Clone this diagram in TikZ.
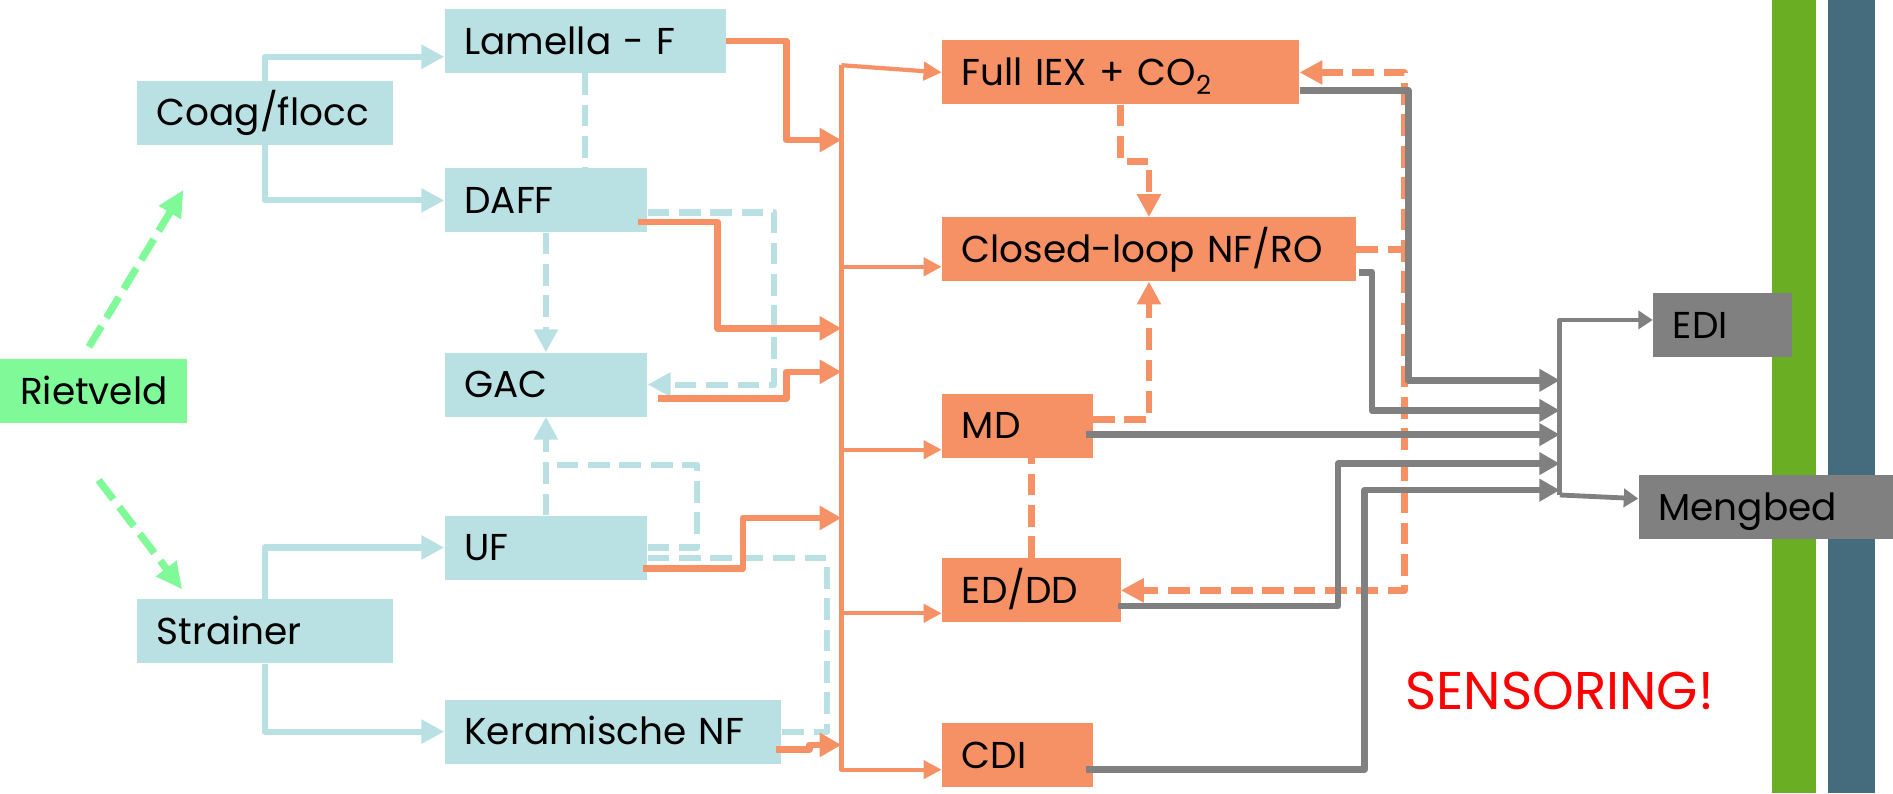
\documentclass[tikz,border=0pt]{standalone}
\usepackage{fontspec}
\setmainfont{Poppins}
\usepackage{tikz}
\usetikzlibrary{arrows.meta}

\definecolor{lichtblauw}{RGB}{185,224,227}
\definecolor{oranje}{RGB}{246,145,102}
\definecolor{lichtgroen}{RGB}{128,250,153}
\definecolor{grijs}{RGB}{128,128,128}
\definecolor{balkgroen}{RGB}{106,175,35}
\definecolor{balkblauw}{RGB}{69,108,124}
\definecolor{rood}{RGB}{255,0,0}

\begin{document}
\begin{tikzpicture}[x=1pt, y=-1pt, line join=round,
   blok/.style={rectangle, anchor=west, inner xsep=16.5pt, inner ysep=0pt,
      minimum height=53pt, align=left, text height=21.5pt, text depth=0pt,
      font=\fontsize{31}{36}\selectfont},
   blauwblok/.style={blok, fill=lichtblauw},
   groenblok/.style={blok, fill=lichtgroen},
   oranjeblok/.style={blok, fill=oranje},
   grijsblok/.style={blok, fill=grijs},
   blauwlijn/.style={draw=lichtblauw, line width=5pt, -{Triangle[length=19pt, width=19pt]}},
   blauwstreep/.style={blauwlijn, dash pattern=on 18pt off 8pt},
   oranjelijn/.style={draw=oranje, line width=5.5pt, -{Triangle[length=18pt, width=19pt]}},
   oranjedun/.style={draw=oranje, line width=3.5pt, -{Triangle[length=15pt, width=15pt]}},
   oranjestreep/.style={draw=oranje, line width=5.5pt, dash pattern=on 18pt off 8pt,
      -{Triangle[length=19pt, width=19pt]}},
   grijslijn/.style={draw=grijs, line width=5.5pt, -{Triangle[length=17pt, width=18pt]}},
   grijsdun/.style={draw=grijs, line width=4pt, -{Triangle[length=12pt, width=15pt]}},
   groenstreep/.style={draw=lichtgroen, line width=6pt, dash pattern=on 20pt off 8pt,
      -{Triangle[length=22pt, width=20pt]}}]
   \useasboundingbox (0,0) rectangle (1568,657);
   \fill[balkgroen] (1468,0) rectangle (1504,657);
   \fill[balkblauw] (1514,0) rectangle (1553,657);

   \node (rietveld) at (0,324) [groenblok, text width=122pt] {Rietveld};
   \node (coag) at (113,93.5) [blauwblok, text width=179pt] {Coag/flocc};
   \node (strainer) at (113,523) [blauwblok, text width=179pt] {Strainer};
   \node (lamella) at (368,34) [blauwblok, text width=200pt] {Lamella - F};
   \node (daff) at (368,166) [blauwblok, text width=135pt] {DAFF};
   \node (gac) at (368,318.5) [blauwblok, text width=135pt] {GAC};
   \node (uf) at (368,453.5) [blauwblok, text width=135pt] {UF};
   \node (keramisch) at (368,606) [blauwblok, text width=246pt] {Keramische NF};
   \node (fulliex) at (780,60) [oranjeblok, text width=263pt] {Full IEX + CO\textsubscript{2}};
   \node (closedloop) at (780,206.5) [oranjeblok, text width=310pt] {Closed-loop NF/RO};
   \node (md) at (780,352.5) [oranjeblok, text width=92pt] {MD};
   \node (eddd) at (780,489) [oranjeblok, text width=115pt] {ED/DD};
   \node (cdi) at (780,625.5) [oranjeblok, text width=92pt] {CDI};
   \node (edi) at (1369,269.5) [grijsblok, text width=82pt] {EDI};
   \node (mengbed) at (1357,420) [grijsblok, text width=180pt] {Mengbed};
   \node (sensoring) at (1164,572) [anchor=west, inner sep=0pt, text=rood, text height=31pt,
      text depth=0pt, font=\fontsize{44}{50}\selectfont] {SENSORING!};

   \coordinate (obus boven) at (697,54);
   \foreach \naam/\y in {lamella/116, daff/272, gac/308, uf/429, keramisch/617}
      \coordinate (in-\naam) at (697,\y);
   \coordinate (gbus boven) at (1292,265);
   \coordinate (gbus onder) at (1292,410);
   \foreach \i/\y in {1/315, 2/340, 3/360, 4/384, 5/406}
      \coordinate (gin-\i) at (1292,\y);

   \draw[groenstreep] ([xshift=-4pt,yshift=10pt]rietveld.north) -- ([xshift=39pt,yshift=-37pt]coag.south west);
   \draw[groenstreep] ([xshift=4pt,yshift=-47pt]rietveld.south) -- ([xshift=38pt,yshift=8pt]strainer.north west);

   \draw[blauwlijn] (coag.north) |- ([yshift=-13pt]lamella.west);
   \draw[blauwlijn] (coag.south) |- (daff.west);
   \draw[blauwlijn] (strainer.north) |- (uf.west);
   \draw[blauwlijn] (strainer.south) |- (keramisch.west);
   \draw[blauwstreep, -] (lamella.south) -- (lamella.south |- daff.north);
   \draw[blauwstreep] (daff.south) -- (gac.north);
   \draw[blauwstreep] ([yshift=-10pt]daff.east) -- ++(105,0) |- (gac.east);
   \draw[blauwstreep] (uf.north) -- (gac.south);
   \draw[blauwstreep, -] (uf.east) -- ++(41,0) |- ([yshift=42pt]uf.north);
   \draw[blauwstreep, -] ([yshift=-9pt]uf.east) -- ++(149,0) |- (keramisch.east);

   \draw[oranjelijn] (lamella.east) -- ++(50,0) |- (in-lamella);
   \draw[oranjelijn] ([xshift=-8pt,yshift=-18pt]daff.east) -- ++(66,0) |- (in-daff);
   \draw[oranjelijn] ([xshift=9pt,yshift=-11.5pt]gac.east) -- ++(106,0) |- (in-gac);
   \draw[oranjelijn] ([xshift=-4pt,yshift=-17.5pt]uf.east) -- ++(83,0) |- (in-uf);
   \draw[oranjelijn] ([xshift=-5pt,yshift=-15pt]keramisch.east) -- ++(28,0) |- (in-keramisch);

   \draw[oranjedun] (obus boven) -- (fulliex.west);
   \foreach \doel/\dy in {closedloop/-14.5, md/-20, eddd/-19, cdi/-12}
      \draw[oranjedun] (obus boven) |- ([yshift=\dy pt]\doel.west);

   \draw[oranjestreep] (fulliex.south) -- ++(0,47) -| (closedloop.north);
   \draw[oranjestreep] ([yshift=5pt]md.east) -| (closedloop.south);
   \draw[oranjestreep, -] (eddd.north) -- (eddd.north |- md.south);
   \draw[oranjestreep, {Triangle[length=19pt, width=19pt]}-{Triangle[length=19pt, width=19pt]}]
      (fulliex.east) -- ++(87,0) |- (eddd.east);
   \draw[oranjestreep, -] (closedloop.east) -- ++(40,0);

   \draw[grijslijn] ([yshift=-15pt]fulliex.east) -- ++(90,0) |- (gin-1);
   \draw[grijslijn] ([xshift=2pt,yshift=-19pt]closedloop.east) -- ++(11,0) |- (gin-2);
   \draw[grijslijn] ([xshift=-6pt,yshift=-7.5pt]md.east) -- (gin-3);
   \draw[grijslijn] ([xshift=-2pt,yshift=-13pt]eddd.east) -- ++(182,0) |- (gin-4);
   \draw[grijslijn] ([xshift=-6pt,yshift=-12pt]cdi.east) -- ++(231,0) |- (gin-5);

   \draw[grijsdun] (gbus onder) |- ([yshift=4.5pt]edi.west);
   \draw[grijsdun] (gbus onder) -- ([yshift=7pt]mengbed.west);
\end{tikzpicture}
\end{document}
